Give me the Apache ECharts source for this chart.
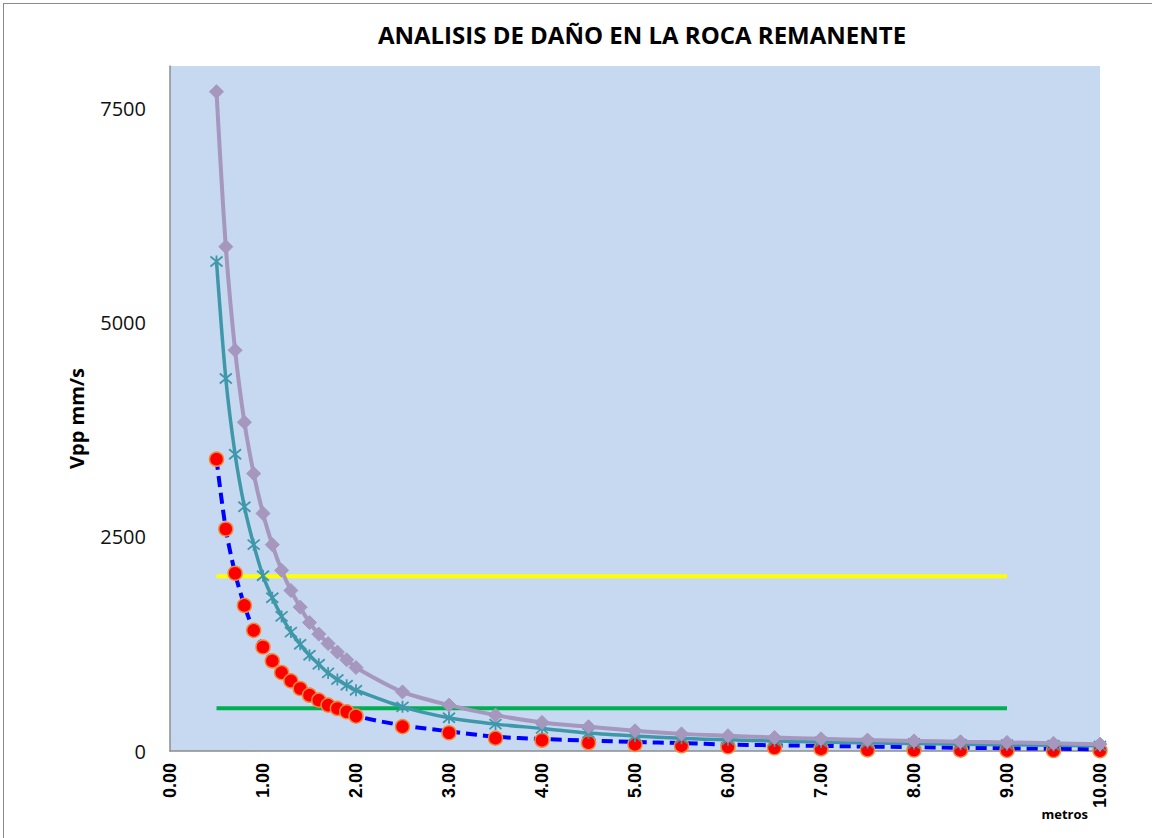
<!DOCTYPE html>
<html>
<head>
<meta charset="utf-8">
<script src="https://cdn.jsdelivr.net/npm/echarts@6/dist/echarts.min.js"></script>
<style>
  html, body { margin: 0; padding: 0; background: #ffffff; }
  #frame { position: absolute; left: 3px; top: 3px; width: 1160px; height: 850px; border: 1px solid #8a8a8a; box-sizing: border-box; }
  #chart { position: absolute; left: 0; top: 0; width: 1152px; height: 838px; }
</style>
</head>
<body>
<div id="frame"></div>
<div id="chart"></div>
<script>
// ---- data ----
const distances = [0.5, 0.6, 0.7, 0.8, 0.9, 1.0, 1.1, 1.2, 1.3, 1.4, 1.5, 1.6, 1.7, 1.8, 1.9, 2.0,
                   2.5, 3.0, 3.5, 4.0, 4.5, 5.0, 5.5, 6.0, 6.5, 7.0, 7.5, 8.0, 8.5, 9.0, 9.5, 10.0];
const purpleVals = [7700, 5890, 4680, 3840, 3240, 2775, 2410, 2110, 1875, 1680, 1500, 1365, 1255, 1155, 1065, 975,
                    690, 536, 419, 334, 283, 236, 200, 178, 158, 142, 128, 118, 108, 100, 90, 80];
const tealVals   = [5717, 4351, 3466, 2853, 2410, 2046, 1790, 1572, 1389, 1246, 1118, 1013, 912, 835, 768, 710,
                    516, 388, 314, 264, 210, 175, 148, 130, 116, 105, 95, 87, 80, 74, 67, 60];
const blueVals   = [3408, 2593, 2076, 1700, 1409, 1215, 1052, 916, 819, 730, 652, 594, 536, 497, 458, 408,
                    300, 230, 166, 140, 122, 106, 92, 76, 67, 60, 52, 45, 38, 32, 26, 20];
const redVals    = [3408, 2593, 2076, 1700, 1409, 1215, 1052, 916, 819, 730, 652, 594, 536, 497, 458, 408,
                    285, 213, 150, 126, 97, 78, 62, 50, 38, 27, 14, 12, 10, 8, 6, 5];
const limitX = [0.5, 9.0];
const yellowLevel = 2040;
const greenLevel = 500;
const yTicks = [0, 2500, 5000, 7500];
const xTicks = [0, 1, 2, 3, 4, 5, 6, 7, 8, 9, 10];

const pair = (xs, ys) => xs.map((x, i) => [x, ys[i]]);

const chart = echarts.init(document.getElementById('chart'), null, { renderer: 'svg' });
const option = {
  animation: false,
  title: {
    text: 'ANALISIS DE DAÑO EN LA ROCA REMANENTE',
    left: 637, top: 17, textAlign: 'center',
    textStyle: { fontFamily: 'Open Sans', fontWeight: 'bold', fontSize: 24, color: '#000' }
  },
  grid: {
    left: 170, top: 66, width: 930, height: 685,
    show: true, backgroundColor: '#C6D9F0', borderWidth: 0
  },
  xAxis: {
    type: 'value', min: 0, max: 10, interval: 1,
    axisLine: { show: true, onZero: false, lineStyle: { color: '#8c8c8c', width: 1.5 } },
    axisTick: { show: false },
    splitLine: { show: false },
    axisLabel: {
      rotate: 90, margin: 12,
      fontFamily: 'Liberation Sans', fontWeight: 'bold', fontSize: 18, color: '#000',
      formatter: v => xTicks.includes(v) ? v.toFixed(2) : ''
    },
    name: 'metros', nameLocation: 'end', nameGap: -12,
    nameTextStyle: { fontFamily: 'Open Sans', fontWeight: 'bold', fontSize: 13, color: '#000',
                     align: 'right', verticalAlign: 'top', padding: [56, 0, 0, 0] }
  },
  yAxis: {
    type: 'value', min: 0, max: 8000, interval: 2500,
    axisLine: { show: true, lineStyle: { color: '#8c8c8c', width: 1.5 } },
    axisTick: { show: false },
    splitLine: { show: false },
    axisLabel: {
      margin: 24, fontFamily: 'Open Sans', fontSize: 20, color: '#111',
      formatter: v => yTicks.includes(v) ? String(v) : ''
    },
    name: 'Vpp mm/s', nameLocation: 'middle', nameGap: 84, nameRotate: 90,
    nameTextStyle: { fontFamily: 'Open Sans', fontWeight: 'bold', fontSize: 20, color: '#000',
                     padding: [0, 20, 0, 0] }
  },
  series: [
    {
      name: 'yellow', type: 'line', data: limitX.map(x => [x, yellowLevel]),
      symbol: 'none', lineStyle: { color: '#FFFF00', width: 4 }, z: 2
    },
    {
      name: 'green', type: 'line', data: limitX.map(x => [x, greenLevel]),
      symbol: 'none', lineStyle: { color: '#00B050', width: 4 }, z: 2
    },
    {
      name: 'blue', type: 'line', data: pair(distances, blueVals), smooth: 0.3,
      symbol: 'none', lineStyle: { color: '#0000FF', width: 4, type: [11, 6] }, z: 3
    },
    {
      name: 'red', type: 'scatter', data: pair(distances, redVals),
      symbol: 'circle', symbolSize: 14,
      itemStyle: { color: '#FF0000', borderColor: '#F08A3C', borderWidth: 1.5, opacity: 1 }, z: 4
    },
    {
      name: 'teal', type: 'line', data: pair(distances, tealVals), smooth: 0.3,
      symbol: 'path://M0,0L10,10M10,0L0,10M5,-1L5,11', symbolSize: 12, showAllSymbol: true,
      lineStyle: { color: '#3F98AA', width: 3.5 },
      itemStyle: { color: '#3F98AA', borderColor: '#3F98AA', borderWidth: 1.8 }, z: 5
    },
    {
      name: 'purple', type: 'line', data: pair(distances, purpleVals), smooth: 0.3,
      symbol: 'diamond', symbolSize: 14, showAllSymbol: true,
      lineStyle: { color: '#A697BF', width: 4 },
      itemStyle: { color: '#A697BF', borderColor: '#A697BF', borderWidth: 1 }, z: 6
    }
  ]
};
chart.setOption(option);
</script>
</body>
</html>
